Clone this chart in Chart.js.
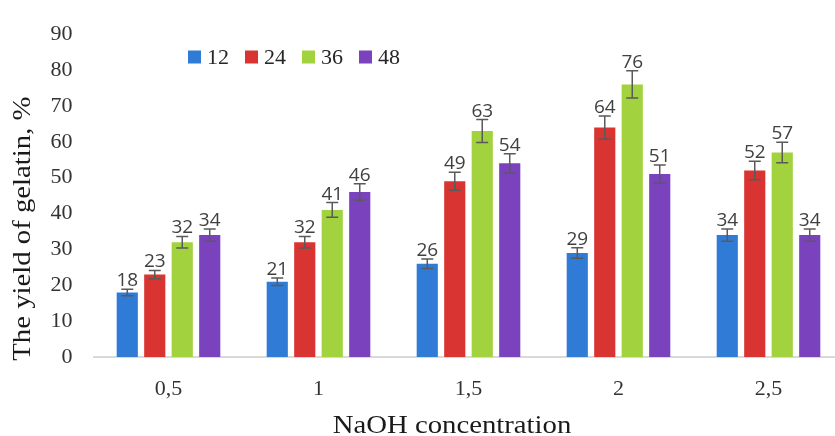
<!DOCTYPE html>
<html>
<head>
<meta charset="utf-8">
<script src="https://cdn.jsdelivr.net/npm/chart.js@4.4.0/dist/chart.umd.min.js"></script>
<style>
  body { margin: 0; overflow: hidden; background: #fff; }
  #wrap { width: 835px; height: 436px; overflow: hidden; }
</style>
</head>
<body>
<div id="wrap"><canvas id="myChart" width="850" height="436"></canvas></div>
<script>
const CATEGORIES = ['0,5', '1', '1,5', '2', '2,5'];
const SERIES_NAMES = ['12', '24', '36', '48'];
const COLORS = ['#2f7bd6', '#d93432', '#a3d23f', '#7b42be'];

const yield12 = [18, 21, 26, 29, 34];
const yield24 = [23, 32, 49, 64, 52];
const yield36 = [32, 41, 63, 76, 57];
const yield48 = [34, 46, 54, 51, 34];

const err12 = [0.9, 1.05, 1.3, 1.45, 1.7];
const err24 = [1.15, 1.6, 2.5, 3.2, 2.6];
const err36 = [1.6, 2.05, 3.2, 3.8, 2.85];
const err48 = [1.7, 2.3, 2.7, 2.55, 1.7];

const Y_TICKS = [0, 10, 20, 30, 40, 50, 60, 70, 80, 90];
const Y_TITLE = 'The yield of gelatin, %';
const X_TITLE = 'NaOH concentration';

const values = [yield12, yield24, yield36, yield48];
const errors = [err12, err24, err36, err48];

const SERIF = '"Liberation Serif", "Times New Roman", serif';

// error bars + value labels, drawn through the scales
const errorBarPlugin = {
    id: 'errorBars',
    afterDatasetsDraw(chart) {
        const c = chart.ctx;
        const yScale = chart.scales.y;
        chart.data.datasets.forEach((ds, i) => {
            const meta = chart.getDatasetMeta(i);
            meta.data.forEach((bar, j) => {
                const v = ds.data[j];
                const e = errors[i][j];
                const top = yScale.getPixelForValue(v + e);
                const bot = yScale.getPixelForValue(v - e);
                const x = bar.x;
                c.save();
                c.strokeStyle = '#5a5a5a';
                c.lineWidth = 1.5;
                c.beginPath();
                c.moveTo(x, top); c.lineTo(x, bot);
                c.moveTo(x - 6, top); c.lineTo(x + 6, top);
                c.moveTo(x - 6, bot); c.lineTo(x + 6, bot);
                c.stroke();
                c.fillStyle = '#404040';
                c.font = '19px "Open Sans", sans-serif';
                c.textAlign = 'center';
                c.textBaseline = 'alphabetic';
                c.fillText(String(v), x, top - 3);
                c.restore();
            });
        });
    }
};

// titles (slightly stretched like the source) and legend
const textPlugin = {
    id: 'texts',
    afterDraw(chart) {
        const c = chart.ctx;
        const area = chart.chartArea;
        c.save();
        c.fillStyle = '#1a1a1a';
        c.font = '25px ' + SERIF;
        c.textAlign = 'center';
        c.textBaseline = 'alphabetic';

        c.save();
        c.translate(452, 433);
        c.scale(1.15, 1);
        c.fillText(X_TITLE, 0, 0);
        c.restore();

        c.save();
        c.translate(30, (area.top + area.bottom) / 2 + 33);
        c.rotate(-Math.PI / 2);
        c.scale(1.15, 1);
        c.fillText(Y_TITLE, 0, 0);
        c.restore();

        // legend
        let x = 188;
        const y = 57;
        c.font = '22px ' + SERIF;
        c.textAlign = 'left';
        c.textBaseline = 'middle';
        chart.data.datasets.forEach((ds) => {
            c.fillStyle = ds.backgroundColor;
            c.fillRect(x, y - 6.5, 13, 13);
            x += 19;
            c.fillStyle = '#262626';
            c.fillText(ds.label, x, y + 1);
            x += c.measureText(ds.label).width + 16;
        });
        c.restore();
    }
};

const ctx = document.getElementById('myChart');

new Chart(ctx, {
    type: 'bar',
    data: {
        labels: CATEGORIES,
        datasets: SERIES_NAMES.map((name, i) => ({
            label: name,
            data: values[i],
            backgroundColor: COLORS[i],
            borderWidth: 0,
            categoryPercentage: 0.733,
            barPercentage: 0.77
        }))
    },
    options: {
        responsive: false,
        animation: false,
        layout: { padding: { left: 0, right: 6.5, top: 21, bottom: 0 } },
        plugins: {
            legend: { display: false },
            tooltip: { enabled: false }
        },
        scales: {
            x: {
                grid: { display: false, drawTicks: false, tickLength: 0 },
                border: { display: true, color: '#d9d9d9', width: 2 },
                ticks: { color: '#333', font: { family: SERIF, size: 22 }, padding: 19 },
                afterFit(scale) { scale.height = 79; }
            },
            y: {
                min: 0,
                max: 90,
                afterBuildTicks(scale) { scale.ticks = Y_TICKS.map(v => ({ value: v })); },
                grid: { display: false, drawTicks: false, tickLength: 0 },
                border: { display: false },
                ticks: { color: '#333', font: { family: SERIF, size: 22 }, padding: 21 },
                afterFit(scale) { scale.width = 93.5; }
            }
        }
    },
    plugins: [errorBarPlugin, textPlugin]
});
</script>
</body>
</html>
